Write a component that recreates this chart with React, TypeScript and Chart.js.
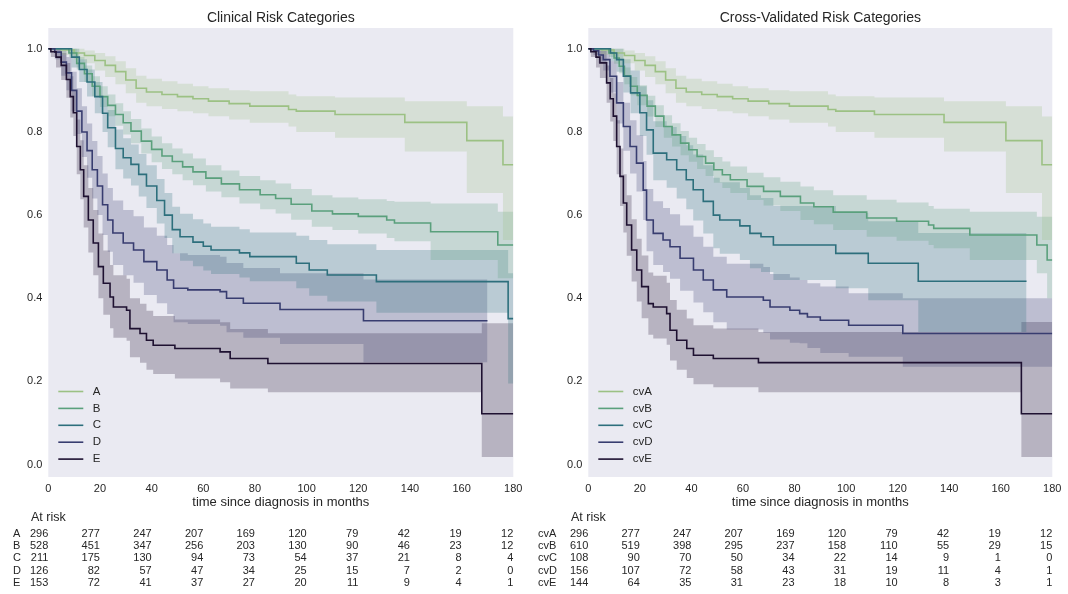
import React, { useEffect, useRef } from "react";
import { Chart, registerables } from "chart.js";

Chart.register(...registerables);

const FONT = "'Liberation Sans', Arial, sans-serif";
const TEXT = "#262626";
const BG = "#EAEAF2";
const COLORS = ["#9cc184", "#5aa07c", "#2d6f7c", "#383d70", "#1e1131"];
const BAND_ALPHA = 0.25;

const timeTicks = [0, 20, 40, 60, 80, 100, 120, 140, 160, 180];
const survTicks = [0, 0.2, 0.4, 0.6, 0.8, 1.0];

// ---------- Clinical risk categories ----------
const A_t = [0, 5, 10, 14, 18, 22, 26, 30, 34, 38, 44, 50, 56, 62, 70, 78, 93, 96, 111, 138, 162, 176, 180];
const A_s = [1.0, 0.997, 0.99, 0.984, 0.972, 0.96, 0.945, 0.925, 0.905, 0.896, 0.89, 0.885, 0.88, 0.874, 0.868, 0.862, 0.854, 0.85, 0.842, 0.823, 0.779, 0.721, 0.721];
const A_hi = [1.0, 1.0, 1.0, 0.996, 0.99, 0.982, 0.97, 0.953, 0.935, 0.928, 0.922, 0.916, 0.91, 0.905, 0.9, 0.898, 0.89, 0.886, 0.883, 0.874, 0.862, 0.837, 0.837];
const A_lo = [1.0, 0.985, 0.975, 0.965, 0.948, 0.932, 0.915, 0.893, 0.87, 0.862, 0.855, 0.85, 0.845, 0.838, 0.83, 0.822, 0.813, 0.8, 0.786, 0.753, 0.653, 0.54, 0.54];

const B_t = [0, 8, 11, 14, 17, 20, 23, 26, 29, 32, 36, 40, 44, 48, 52, 56, 61, 67, 74, 82, 88, 94, 102, 110, 120, 131, 134, 148, 174, 180];
const B_s = [1.0, 0.99, 0.965, 0.94, 0.91, 0.885, 0.864, 0.842, 0.822, 0.802, 0.778, 0.758, 0.742, 0.729, 0.716, 0.704, 0.689, 0.675, 0.661, 0.649, 0.64, 0.626, 0.61, 0.603, 0.597, 0.588, 0.581, 0.56, 0.528, 0.528];
const B_hi = [1.0, 1.0, 0.98, 0.96, 0.934, 0.91, 0.89, 0.869, 0.85, 0.831, 0.808, 0.789, 0.773, 0.76, 0.748, 0.736, 0.72, 0.707, 0.694, 0.684, 0.676, 0.663, 0.648, 0.642, 0.638, 0.634, 0.632, 0.628, 0.608, 0.608];
const B_lo = [1.0, 0.98, 0.95, 0.92, 0.886, 0.86, 0.838, 0.815, 0.794, 0.773, 0.748, 0.727, 0.711, 0.698, 0.684, 0.672, 0.657, 0.643, 0.628, 0.614, 0.604, 0.589, 0.572, 0.564, 0.556, 0.545, 0.537, 0.492, 0.448, 0.448];

const C_t = [0, 9, 12, 15, 18, 21, 23, 26, 29, 32, 35, 38, 42, 45, 48, 51, 56, 60, 63, 74, 78, 96, 101, 108, 127, 178, 180];
const C_s = [1.0, 0.98, 0.95, 0.92, 0.885, 0.845, 0.81, 0.76, 0.738, 0.722, 0.698, 0.67, 0.635, 0.6, 0.565, 0.548, 0.535, 0.525, 0.516, 0.509, 0.5, 0.484, 0.468, 0.456, 0.44, 0.351, 0.351];
const C_hi = [1.0, 1.0, 0.975, 0.95, 0.92, 0.885, 0.853, 0.806, 0.785, 0.77, 0.747, 0.72, 0.687, 0.653, 0.62, 0.603, 0.59, 0.58, 0.572, 0.566, 0.558, 0.55, 0.54, 0.53, 0.516, 0.46, 0.46];
const C_lo = [1.0, 0.955, 0.92, 0.885, 0.845, 0.8, 0.763, 0.71, 0.688, 0.671, 0.645, 0.617, 0.58, 0.545, 0.508, 0.49, 0.477, 0.467, 0.458, 0.45, 0.441, 0.424, 0.406, 0.392, 0.365, 0.195, 0.195];

const D_t = [0, 2.5, 5, 7, 9, 11, 13, 15, 17, 19, 21, 23, 25, 29, 33, 37, 42, 46, 48.5, 54, 66.5, 69, 75.5, 89.7, 122, 170];
const D_s = [1.0, 0.992, 0.968, 0.942, 0.9, 0.85, 0.8, 0.755, 0.709, 0.67, 0.625, 0.588, 0.557, 0.533, 0.516, 0.488, 0.468, 0.444, 0.424, 0.42, 0.416, 0.4, 0.388, 0.373, 0.346, 0.346];
const D_hi = [1.0, 1.0, 0.995, 0.98, 0.945, 0.905, 0.862, 0.82, 0.778, 0.742, 0.7, 0.665, 0.635, 0.612, 0.597, 0.57, 0.55, 0.528, 0.508, 0.504, 0.5, 0.485, 0.473, 0.46, 0.445, 0.445];
const D_lo = [1.0, 0.975, 0.935, 0.9, 0.85, 0.795, 0.74, 0.69, 0.64, 0.6, 0.552, 0.512, 0.48, 0.455, 0.437, 0.408, 0.388, 0.362, 0.342, 0.338, 0.334, 0.318, 0.305, 0.29, 0.246, 0.246];

const E_t = [0, 1, 3, 5, 7, 8.5, 9.7, 11, 12.4, 13.7, 15.5, 17.4, 19.4, 21.3, 23.9, 25.2, 30.3, 31.6, 35.5, 38, 40.6, 49, 66.5, 70.4, 85, 167.8, 180];
const E_s = [1.0, 0.993, 0.98, 0.96, 0.926, 0.885, 0.846, 0.765, 0.709, 0.645, 0.588, 0.533, 0.476, 0.436, 0.403, 0.379, 0.371, 0.327, 0.315, 0.299, 0.287, 0.279, 0.271, 0.255, 0.243, 0.122, 0.122];
const E_hi = [1.0, 1.0, 1.0, 0.99, 0.966, 0.934, 0.9, 0.83, 0.78, 0.72, 0.665, 0.612, 0.556, 0.515, 0.48, 0.455, 0.447, 0.4, 0.387, 0.37, 0.357, 0.349, 0.342, 0.326, 0.316, 0.34, 0.34];
const E_lo = [1.0, 0.98, 0.955, 0.925, 0.882, 0.835, 0.79, 0.698, 0.638, 0.57, 0.51, 0.455, 0.4, 0.36, 0.328, 0.305, 0.298, 0.258, 0.245, 0.228, 0.218, 0.207, 0.198, 0.183, 0.174, 0.018, 0.018];

// ---------- Cross-validated risk categories ----------
const cvA_t = A_t;
const cvA_s = A_s;
const cvA_hi = A_hi;
const cvA_lo = A_lo;

const cvB_t = [0, 8, 10, 12, 14, 16.4, 19, 22.8, 26, 29.3, 32.5, 35.8, 39, 42.2, 45.5, 48.7, 52, 55.1, 61.6, 68, 74.5, 82.3, 87.5, 95, 108, 119.6, 132, 134, 148, 174, 178, 180];
const cvB_s = [1.0, 0.99, 0.978, 0.958, 0.935, 0.91, 0.888, 0.862, 0.838, 0.813, 0.793, 0.773, 0.757, 0.741, 0.725, 0.709, 0.697, 0.685, 0.669, 0.657, 0.645, 0.629, 0.62, 0.607, 0.593, 0.585, 0.576, 0.568, 0.552, 0.528, 0.492, 0.492];
const cvB_hi = [1.0, 1.0, 0.992, 0.975, 0.955, 0.932, 0.912, 0.887, 0.864, 0.84, 0.821, 0.802, 0.786, 0.771, 0.756, 0.74, 0.729, 0.717, 0.702, 0.691, 0.68, 0.669, 0.66, 0.648, 0.637, 0.63, 0.622, 0.615, 0.608, 0.596, 0.596, 0.596];
const cvB_lo = [1.0, 0.98, 0.964, 0.941, 0.915, 0.888, 0.864, 0.837, 0.812, 0.786, 0.765, 0.744, 0.728, 0.711, 0.694, 0.678, 0.665, 0.653, 0.636, 0.623, 0.61, 0.588, 0.578, 0.564, 0.548, 0.538, 0.528, 0.52, 0.492, 0.46, 0.4, 0.4];

const cvC_t = [0, 8.6, 11, 13.6, 16.4, 20, 22.6, 25.2, 30.4, 34.3, 38, 40.7, 44.6, 48.5, 51, 58.8, 62.7, 67, 71.8, 96, 108.6, 128, 170];
const cvC_s = [1.0, 0.99, 0.974, 0.934, 0.894, 0.846, 0.805, 0.749, 0.733, 0.709, 0.685, 0.661, 0.633, 0.6, 0.588, 0.574, 0.556, 0.548, 0.528, 0.508, 0.484, 0.441, 0.441];
const cvC_hi = [1.0, 1.0, 1.0, 0.975, 0.948, 0.91, 0.876, 0.826, 0.812, 0.79, 0.768, 0.746, 0.72, 0.69, 0.679, 0.665, 0.648, 0.641, 0.622, 0.605, 0.585, 0.557, 0.557];
const cvC_lo = [1.0, 0.97, 0.945, 0.895, 0.845, 0.79, 0.745, 0.684, 0.666, 0.64, 0.614, 0.587, 0.556, 0.52, 0.507, 0.492, 0.472, 0.463, 0.444, 0.424, 0.395, 0.319, 0.319];

const cvD_t = [0, 2, 4, 5.8, 8.4, 11, 13.6, 16.2, 18.7, 21.3, 22.6, 25.2, 29, 31.7, 35.6, 40.8, 44.6, 48.5, 53.7, 67.9, 70.5, 78.2, 82, 85, 90, 101, 122, 180];
const cvD_s = [1.0, 0.995, 0.985, 0.974, 0.934, 0.87, 0.813, 0.765, 0.725, 0.66, 0.588, 0.556, 0.54, 0.524, 0.496, 0.468, 0.444, 0.42, 0.403, 0.395, 0.379, 0.371, 0.363, 0.355, 0.347, 0.335, 0.315, 0.315];
const cvD_hi = [1.0, 1.0, 1.0, 0.995, 0.97, 0.92, 0.87, 0.828, 0.792, 0.73, 0.663, 0.633, 0.617, 0.602, 0.575, 0.548, 0.524, 0.5, 0.483, 0.475, 0.458, 0.45, 0.444, 0.436, 0.428, 0.412, 0.4, 0.4];
const cvD_lo = [1.0, 0.985, 0.965, 0.948, 0.895, 0.82, 0.755, 0.7, 0.657, 0.588, 0.513, 0.48, 0.463, 0.447, 0.418, 0.39, 0.366, 0.342, 0.325, 0.317, 0.301, 0.293, 0.292, 0.28, 0.268, 0.259, 0.235, 0.235];

const cvE_t = [0, 1, 3, 4.5, 7.1, 8.5, 9.7, 11, 12.3, 13.6, 14.9, 16.8, 18.8, 20.7, 23.3, 25.2, 30.4, 31.7, 34.3, 38.2, 40.8, 48.5, 66, 168, 180];
const cvE_s = [1.0, 0.993, 0.98, 0.966, 0.918, 0.88, 0.838, 0.765, 0.693, 0.629, 0.576, 0.516, 0.468, 0.428, 0.387, 0.379, 0.363, 0.323, 0.299, 0.279, 0.263, 0.255, 0.245, 0.122, 0.122];
const cvE_hi = [1.0, 1.0, 1.0, 0.995, 0.96, 0.93, 0.893, 0.828, 0.76, 0.698, 0.648, 0.59, 0.543, 0.503, 0.462, 0.454, 0.437, 0.396, 0.372, 0.351, 0.335, 0.327, 0.319, 0.343, 0.343];
const cvE_lo = [1.0, 0.98, 0.955, 0.93, 0.87, 0.825, 0.778, 0.698, 0.622, 0.558, 0.502, 0.44, 0.392, 0.352, 0.312, 0.303, 0.288, 0.25, 0.228, 0.208, 0.193, 0.186, 0.174, 0.018, 0.018];

// ---------- At-risk counts ----------
const riskA = [296, 277, 247, 207, 169, 120, 79, 42, 19, 12];
const riskB = [528, 451, 347, 256, 203, 130, 90, 46, 23, 12];
const riskC = [211, 175, 130, 94, 73, 54, 37, 21, 8, 4];
const riskD = [126, 82, 57, 47, 34, 25, 15, 7, 2, 0];
const riskE = [153, 72, 41, 37, 27, 20, 11, 9, 4, 1];

const riskCvA = [296, 277, 247, 207, 169, 120, 79, 42, 19, 12];
const riskCvB = [610, 519, 398, 295, 237, 158, 110, 55, 29, 15];
const riskCvC = [108, 90, 70, 50, 34, 22, 14, 9, 1, 0];
const riskCvD = [156, 107, 72, 58, 43, 31, 19, 11, 4, 1];
const riskCvE = [144, 64, 35, 31, 23, 18, 10, 8, 3, 1];

const clinicalLabels = ["A", "B", "C", "D", "E"];
const cvLabels = ["cvA", "cvB", "cvC", "cvD", "cvE"];

type Group = { label: string; t: number[]; s: number[]; hi: number[]; lo: number[]; risk: number[] };

const clinicalGroups: Group[] = [
  { label: clinicalLabels[0], t: A_t, s: A_s, hi: A_hi, lo: A_lo, risk: riskA },
  { label: clinicalLabels[1], t: B_t, s: B_s, hi: B_hi, lo: B_lo, risk: riskB },
  { label: clinicalLabels[2], t: C_t, s: C_s, hi: C_hi, lo: C_lo, risk: riskC },
  { label: clinicalLabels[3], t: D_t, s: D_s, hi: D_hi, lo: D_lo, risk: riskD },
  { label: clinicalLabels[4], t: E_t, s: E_s, hi: E_hi, lo: E_lo, risk: riskE },
];

const cvGroups: Group[] = [
  { label: cvLabels[0], t: cvA_t, s: cvA_s, hi: cvA_hi, lo: cvA_lo, risk: riskCvA },
  { label: cvLabels[1], t: cvB_t, s: cvB_s, hi: cvB_hi, lo: cvB_lo, risk: riskCvB },
  { label: cvLabels[2], t: cvC_t, s: cvC_s, hi: cvC_hi, lo: cvC_lo, risk: riskCvC },
  { label: cvLabels[3], t: cvD_t, s: cvD_s, hi: cvD_hi, lo: cvD_lo, risk: riskCvD },
  { label: cvLabels[4], t: cvE_t, s: cvE_s, hi: cvE_hi, lo: cvE_lo, risk: riskCvE },
];

function hexToRgba(hex: string, a: number) {
  const n = parseInt(hex.slice(1), 16);
  return `rgba(${(n >> 16) & 255},${(n >> 8) & 255},${n & 255},${a})`;
}

const W = 534;
const H = 594;

type PanelProps = {
  left: number;
  title: string;
  groups: Group[];
  yAxisWidth: number;
  padRight: number;
  rowLabelX: number;
};

function Panel({ left, title, groups, yAxisWidth, padRight, rowLabelX }: PanelProps) {
  const ref = useRef<HTMLCanvasElement | null>(null);

  useEffect(() => {
    const canvas = ref.current;
    if (!canvas) return;

    const datasets: any[] = [];
    groups.forEach((g, i) => {
      const col = COLORS[i];
      datasets.push({
        label: g.label + "_hi",
        data: g.t.map((x, k) => ({ x, y: g.hi[k] })),
        stepped: true,
        borderColor: "rgba(0,0,0,0)",
        borderWidth: 1,
        pointRadius: 0,
        backgroundColor: hexToRgba(col, BAND_ALPHA),
        fill: "+1",
        order: 10 + i * 2,
      });
      datasets.push({
        label: g.label + "_lo",
        data: g.t.map((x, k) => ({ x, y: g.lo[k] })),
        stepped: true,
        borderColor: "rgba(0,0,0,0)",
        borderWidth: 1,
        pointRadius: 0,
        fill: false,
        order: 10 + i * 2 + 1,
      });
    });
    groups.forEach((g, i) => {
      datasets.push({
        label: g.label,
        data: g.t.map((x, k) => ({ x, y: g.s[k] })),
        stepped: true,
        borderColor: COLORS[i],
        borderWidth: 1.6,
        pointRadius: 0,
        fill: false,
        order: 5 - i,
      });
    });

    const kmPlugin = {
      id: "kmText",
      beforeDraw(chart: any) {
        const { ctx, chartArea: a } = chart;
        ctx.save();
        ctx.fillStyle = BG;
        ctx.fillRect(a.left, a.top, a.right - a.left, a.bottom - a.top);
        ctx.restore();
      },
      afterDraw(chart: any) {
        const { ctx, chartArea: a } = chart;
        const xs = chart.scales.x;
        ctx.save();
        ctx.fillStyle = TEXT;
        ctx.textBaseline = "middle";
        // title
        ctx.font = `14px ${FONT}`;
        ctx.textAlign = "center";
        ctx.fillText(title, (a.left + a.right) / 2, 18);
        // axis title
        ctx.font = `13px ${FONT}`;
        ctx.fillText("time since diagnosis in months", (a.left + a.right) / 2, 502);
        // legend
        ctx.font = `11.5px ${FONT}`;
        ctx.textAlign = "left";
        groups.forEach((g, i) => {
          const y = 391.5 + i * 16.9;
          ctx.strokeStyle = COLORS[i];
          ctx.lineWidth = 1.6;
          ctx.beginPath();
          ctx.moveTo(a.left + 10, y);
          ctx.lineTo(a.left + 35, y);
          ctx.stroke();
          ctx.fillStyle = TEXT;
          ctx.fillText(g.label, a.left + 44.5, y);
        });
        // at risk table
        ctx.font = `12.5px ${FONT}`;
        ctx.textAlign = "center";
        ctx.fillText("At risk", xs.getPixelForValue(0), 518);
        ctx.font = `11px ${FONT}`;
        groups.forEach((g, i) => {
          const y = 533.5 + i * 12.4;
          ctx.textAlign = "left";
          ctx.fillText(g.label, rowLabelX, y);
          ctx.textAlign = "right";
          g.risk.forEach((v, k) => {
            ctx.fillText(String(v), xs.getPixelForValue(timeTicks[k]), y);
          });
        });
        ctx.restore();
      },
    };

    const chart = new Chart(canvas, {
      type: "line",
      data: { datasets },
      options: {
        animation: false,
        responsive: false,
        devicePixelRatio: 1,
        layout: { padding: { left: 0, right: padRight, top: 28, bottom: 0 } },
        plugins: {
          legend: { display: false },
          title: { display: false },
          tooltip: { enabled: false },
          filler: { propagate: false },
        },
        scales: {
          x: {
            type: "linear",
            min: 0,
            max: 180,
            grid: { display: false, drawTicks: false },
            border: { display: false },
            ticks: {
              color: TEXT,
              font: { family: FONT, size: 11 },
              padding: 5,
              maxRotation: 0,
              autoSkip: false,
            },
            afterBuildTicks: (scale: any) => {
              scale.ticks = timeTicks.map((v) => ({ value: v }));
            },
            afterFit: (scale: any) => {
              scale.height = 117;
            },
          },
          y: {
            type: "linear",
            min: -0.03,
            max: 1.05,
            grid: { display: false, drawTicks: false },
            border: { display: false },
            ticks: {
              color: TEXT,
              font: { family: FONT, size: 11 },
              padding: 6,
              autoSkip: false,
              callback: (v: any) => Number(v).toFixed(1),
            },
            afterBuildTicks: (scale: any) => {
              scale.ticks = survTicks.map((v) => ({ value: v }));
            },
            afterFit: (scale: any) => {
              scale.width = yAxisWidth;
            },
          },
        },
      },
      plugins: [kmPlugin],
    } as any);

    return () => chart.destroy();
  }, []);

  return (
    <canvas
      ref={ref}
      width={W}
      height={H}
      style={{ position: "absolute", left, top: 0, width: W, height: H }}
    />
  );
}

export default function App() {
  return (
    <div style={{ position: "absolute", left: 0, top: 0, width: 1068, height: 594, background: "#ffffff" }}>
      <Panel left={0} title="Clinical Risk Categories" groups={clinicalGroups} yAxisWidth={48.3} padRight={20.7} rowLabelX={13} />
      <Panel left={534} title="Cross-Validated Risk Categories" groups={cvGroups} yAxisWidth={54.3} padRight={15.7} rowLabelX={4} />
    </div>
  );
}
